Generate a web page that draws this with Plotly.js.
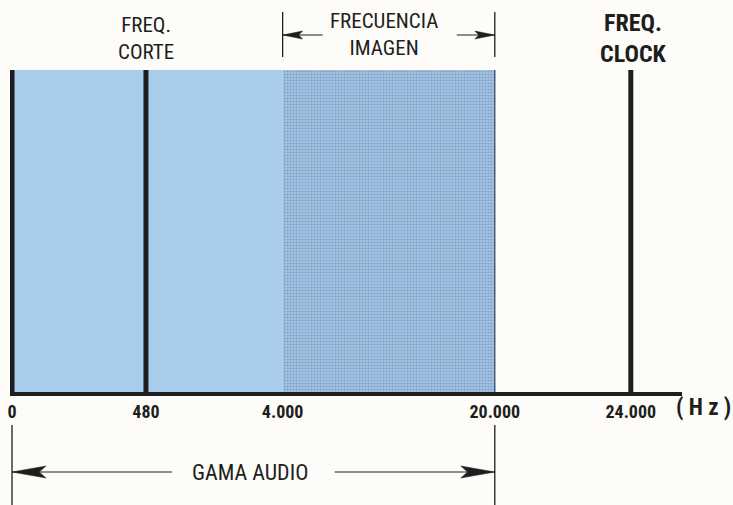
<!DOCTYPE html>
<html><head><meta charset="utf-8">
<script src="https://cdn.plot.ly/plotly-3.0.1.min.js"></script>
<style>html,body{margin:0;padding:0;background:#fdfcf8;}#chart{width:733px;height:505px;}</style>
</head><body><div id="chart"></div>
<script>
// ---- data ----
const tickFreqHz = [0, 480, 4000, 20000, 24000];
const tickLabels = ['0', '480', '4.000', '20.000', '24.000'];
const baseBandHz = [0, 4000];
const imageBandHz = [4000, 20000];
const audioBandHz = [0, 20000];
const markerLinesHz = [0, 480, 24000];
const bandLevel = 1;
const labelCutoff = 'FREQ.<br>CORTE';
const labelImage = 'FRECUENCIA<br>IMAGEN';
const labelClock = '<b>FREQ.<br>CLOCK</b>';
const labelAudio = 'GAMA AUDIO';
const unitLabel = '<b>( H z )</b>';

// ---- schematic (non-linear) frequency scale of the drawing ----
const scaleAnchorsHz = tickFreqHz;
const scaleAnchorsPos = [0, 0.985, 1.99, 3.55, 4.55];
function toPos(hz){
  for (let i = 1; i < scaleAnchorsHz.length; i++) {
    if (hz <= scaleAnchorsHz[i] || i === scaleAnchorsHz.length - 1) {
      const a = scaleAnchorsHz[i-1], b = scaleAnchorsHz[i];
      return scaleAnchorsPos[i-1] + (hz - a) / (b - a) * (scaleAnchorsPos[i] - scaleAnchorsPos[i-1]);
    }
  }
}
// paper-y helper for decorations outside the plot (plot spans px 70..392)
const PT = 70, PB = 392;
function py(px){ return (PB - px) / (PB - PT); }

const FONT = 'Roboto Condensed, Liberation Sans Narrow, sans-serif';
const INK = '#1e1e1e';

const traces = [];
function band(range, extra){
  const a = toPos(range[0]), b = toPos(range[1]);
  return Object.assign({type:'bar', x:[(a+b)/2], width:[b-a], y:[bandLevel], base:0,
    hoverinfo:'skip', showlegend:false}, extra);
}
traces.push(band(baseBandHz, {marker:{color:'#a9cdec', line:{width:0}}}));
traces.push(band(imageBandHz, {marker:{color:'#a4c4e4', line:{width:0},
  pattern:{shape:'.', fillmode:'overlay', fgcolor:'#5a7fae', size:3, solidity:0.4}}}));
traces.push({type:'scatter', mode:'lines', x:[toPos(imageBandHz[1]), toPos(imageBandHz[1])], y:[0, bandLevel],
  line:{color:'#2b3d5c', width:1.2}, hoverinfo:'skip', showlegend:false});
markerLinesHz.forEach(hz => {
  traces.push({type:'scatter', mode:'lines', x:[toPos(hz), toPos(hz)], y:[0, bandLevel],
    line:{color:INK, width:5}, hoverinfo:'skip', showlegend:false});
});

const imgA = toPos(imageBandHz[0]), imgB = toPos(imageBandHz[1]);
const audA = toPos(audioBandHz[0]), audB = toPos(audioBandHz[1]);
const audMid = (audA + audB) / 2;
const imgMid = (imgA + imgB) / 2;

const shapes = [];
[imgA, imgB].forEach(x => shapes.push({type:'line', xref:'x', yref:'paper', x0:x, x1:x, y0:py(12), y1:py(57), line:{color:INK, width:1.3}}));
[audA, audB].forEach(x => shapes.push({type:'line', xref:'x', yref:'paper', x0:x, x1:x, y0:py(425), y1:py(505), line:{color:INK, width:1.3}}));
function hline(xa, px0, px1, ypx, w){
  shapes.push({type:'line', xref:'x', yref:'paper', xsizemode:'pixel', xanchor:xa, x0:px0, x1:px1, y0:py(ypx), y1:py(ypx), line:{color:INK, width:w}});
}
function head(xa, ypx, dir, len, half){
  const L = -dir*len, N = -dir*len*0.8;
  shapes.push({type:'path', xref:'x', yref:'paper', xsizemode:'pixel', ysizemode:'pixel', xanchor:xa, yanchor:py(ypx),
    path:`M0,0 L${L},${half} L${N},0 L${L},${-half} Z`, fillcolor:INK, line:{color:INK, width:0.5}});
}
hline(imgA, 0, 40, 35, 1.2); head(imgA, 35, -1, 20, 4);
hline(imgB, -38, 0, 35, 1.2); head(imgB, 35, 1, 20, 4);
hline(audA, 0, 160, 472, 1.2); head(audA, 472, -1, 34, 6);
hline(audB, -160, 0, 472, 1.2); head(audB, 472, 1, 34, 6);

const annotations = [
  {x:toPos(480), xref:'x', y:py(38), yref:'paper', yanchor:'middle', text:labelCutoff, showarrow:false, font:{family:FONT, size:21, color:INK}},
  {x:imgMid, xref:'x', y:py(35), yref:'paper', yanchor:'middle', text:labelImage, showarrow:false, xshift:-5, font:{family:FONT, size:21, color:INK}},
  {x:toPos(24000), xref:'x', y:py(38), yref:'paper', yanchor:'middle', text:labelClock, showarrow:false, xshift:3, font:{family:FONT, size:24, color:INK}},
  {x:audMid, xref:'x', y:py(472), yref:'paper', yanchor:'middle', text:labelAudio, showarrow:false, xshift:-3, font:{family:FONT, size:22, color:INK}},
  {x:(733-10)/672, xref:'paper', xanchor:'right', y:py(407), yref:'paper', yanchor:'middle', text:unitLabel, showarrow:false, font:{family:FONT, size:23, color:INK}}
];

const layout = {
  width:733, height:505,
  margin:{l:10, r:51, t:PT, b:505-PB, pad:0},
  paper_bgcolor:'#fdfcf8', plot_bgcolor:'rgba(0,0,0,0)',
  barmode:'overlay',
  xaxis:{range:[-2/136, -2/136 + 672/136], showgrid:false, zeroline:false,
    showline:true, linecolor:INK, linewidth:4,
    tickmode:'array', tickvals:tickFreqHz.map(toPos), ticktext:tickLabels.map(t=>'<b>'+t+'</b>'),
    ticks:'', tickfont:{family:FONT, size:18, color:INK}, fixedrange:true},
  yaxis:{range:[0, bandLevel], visible:false, fixedrange:true},
  shapes, annotations, showlegend:false
};
Plotly.newPlot('chart', traces, layout, {displayModeBar:false, staticPlot:true});
</script></body></html>
